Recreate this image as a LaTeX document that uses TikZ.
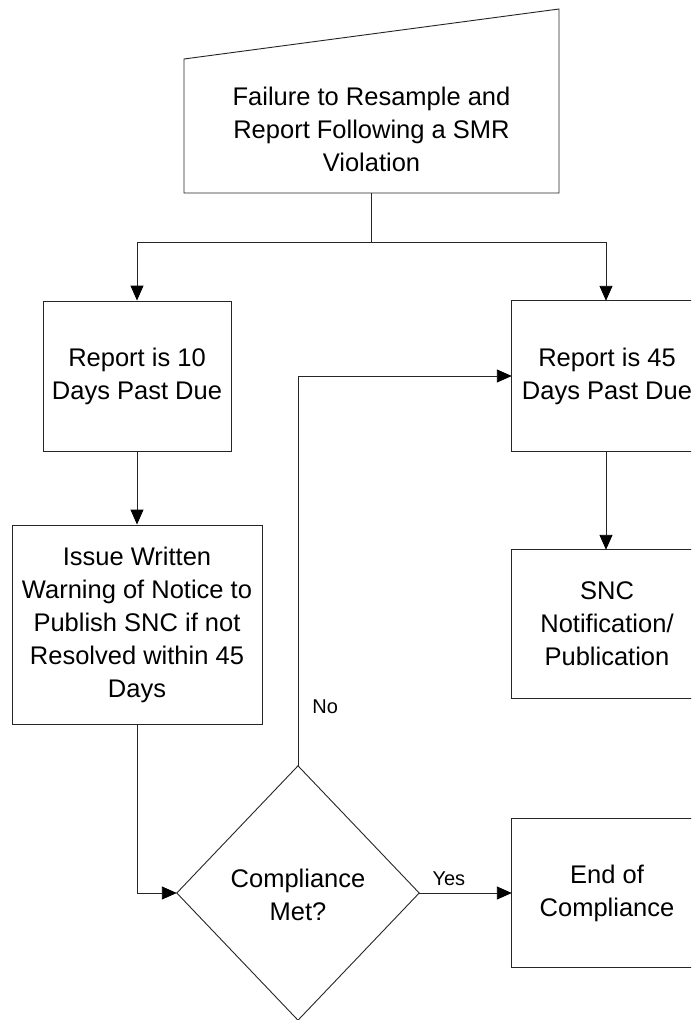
\documentclass[tikz,border=0pt]{standalone}
\usepackage{fontspec}
\setmainfont{Liberation Sans}
\usetikzlibrary{arrows.meta}
\begin{document}
\begin{tikzpicture}[x=1pt,y=1pt,
  line/.style={draw=black!85, line width=0.9pt},
  arr/.style={line, -{Triangle[length=15pt,width=13pt,color=black]}},
  box/.style={rectangle, line, fill=white, align=center, inner sep=0pt,
    font=\fontsize{25.5}{33}\selectfont},
  plain/.style={rectangle, align=center, inner sep=0pt,
    font=\fontsize{25.5}{33}\selectfont},
  tag/.style={font=\fontsize{20}{24}\selectfont, inner sep=3pt}]
\useasboundingbox (0,0) rectangle (691,-1020);
\clip (0,0) rectangle (691,-1020);
\fill[white] (0,0) rectangle (691,-1020);

% manual-input start shape
\draw[line, fill=white] (184,-193) -- (184,-59) -- (559,-9) -- (559,-193) -- cycle;
\node[plain, minimum width=375, minimum height=128] (src) at (371.5,-129)
  {Failure to Resample and\\Report Following a SMR\\Violation};

% process boxes on the left
\node[box, minimum width=188, minimum height=150] (r10) at (137,-376)
  {Report is 10\\Days Past Due};
\node[box, minimum width=250, minimum height=199] (warn) at (137,-624.5)
  {Issue Written\\Warning of Notice to\\Publish SNC if not\\Resolved within 45\\Days};

% process boxes on the right, running off the page edge
\node[plain, minimum width=190, minimum height=150] (r45) at (607,-376)
  {Report is 45\\Days Past Due};
\node[plain, minimum width=190, minimum height=148] (snc) at (607,-624)
  {SNC\\Notification/\\Publication};
\node[plain, minimum width=190, minimum height=149] (done) at (607,-893)
  {End of\\Compliance};
\foreach \b in {r45,snc,done}
  \draw[line] (\b.north east) -- (\b.north west) -- (\b.south west) -- (\b.south east);

% decision diamond
\node[plain, minimum width=242, minimum height=254] (dec) at (298,-893) {};
\draw[line, fill=white] (dec.north) -- (dec.east) -- (dec.south) -- (dec.west) -- cycle;
\node[plain] at (298,-895) {Compliance\\Met?};

% connectors
\draw[line] (src.south) -- ++(0,-49) coordinate (fork);
\draw[arr] (fork) -| (r10.north);
\draw[arr] (fork) -| ([xshift=-1pt]r45.north);
\draw[arr] (r10.south) -- (warn.north);
\draw[arr] ([xshift=-1pt]r45.south) -- ([xshift=-1pt]snc.north);
\draw[arr] (warn.south) |- (dec.west);
\draw[arr] (dec.east) -- node[tag, pos=0.32, above=4pt] {Yes} (done.west);
\draw[arr] (dec.north) |- node[tag, pos=0.076, right=11pt] {No} (r45.west);
\end{tikzpicture}
\end{document}
